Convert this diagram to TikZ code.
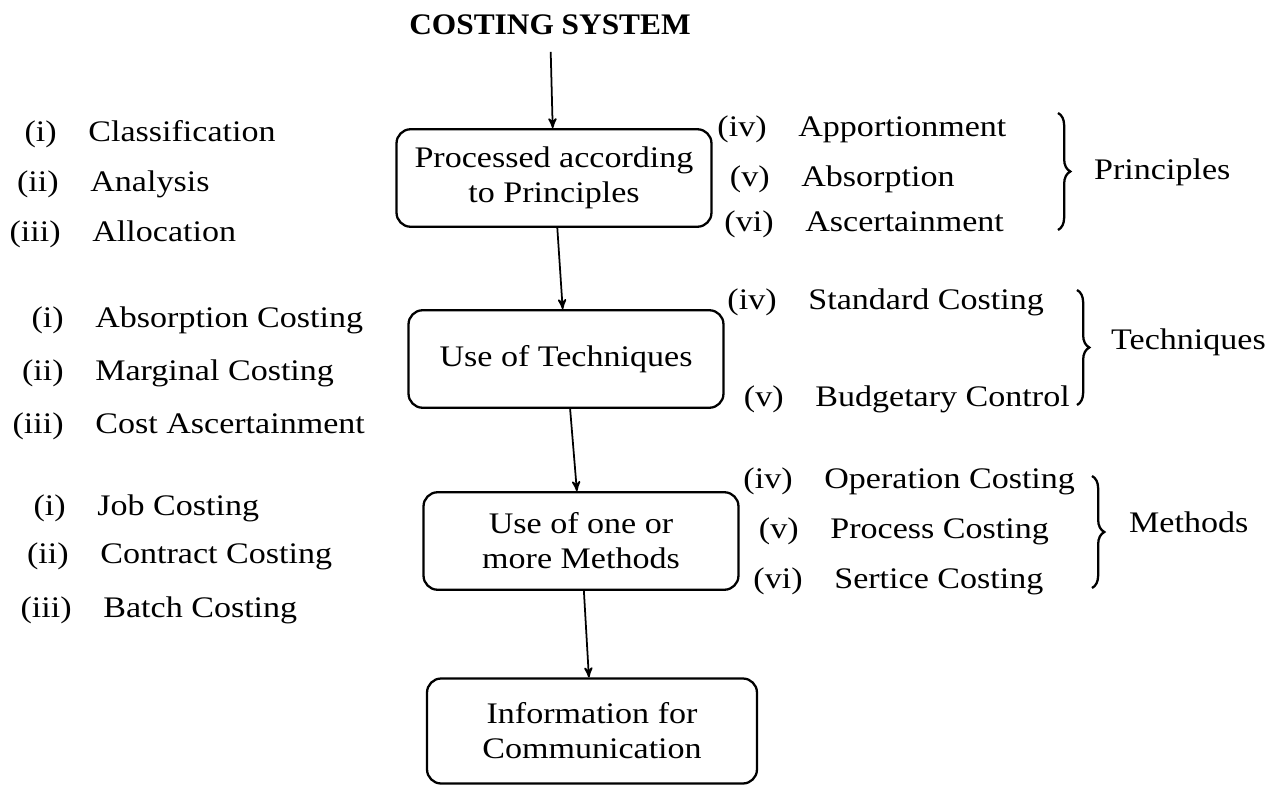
\documentclass[tikz,border=0pt]{standalone}
\usepackage{fontspec}
\setmainfont{Liberation Serif}[FakeStretch=1.14]
\newfontfamily\headfont{Liberation Serif}[FakeStretch=1.05]
\usetikzlibrary{arrows}
\usetikzlibrary{decorations.pathreplacing}
\tikzset{
  stage/.style={draw, line width=1.3pt, rounded corners=8pt, align=center,
    minimum width=6.3cm, minimum height=1.95cm, inner sep=2pt},
  item/.style={inner sep=0pt},
  flow/.style={->, >=stealth', line width=1pt},
  curly/.style={decorate, decoration={brace, amplitude=7pt}, line width=1.3pt}
}

\begin{document}
\begin{tikzpicture}[x=0.02cm, y=-0.02cm, font=\fontsize{17}{20}\selectfont]
\useasboundingbox (0,0) rectangle (1278,787);

% main chain
\node[font=\headfont\fontsize{17}{20}\selectfont\bfseries] (cost) at (550,25) {COSTING SYSTEM};
\node[stage] (prin) at (554,178) {Processed according\\to Principles};
\node[stage] (tech) at (566,359) {Use of Techniques};
\node[stage] (meth) at (581,541) {Use of one or\\more Methods};
\node[stage, minimum width=6.6cm, minimum height=2.1cm] (info) at (592,731) {Information for\\Communication};
\draw[flow, shorten <=6pt] (cost) -- (prin);
\draw[flow] (prin) -- (tech);
\draw[flow] (tech) -- (meth);
\draw[flow] (meth) -- (info);

% left lists
\foreach \x/\y/\num/\txt [count=\i] in {88/142/(i)/Classification, 90/192/(ii)/Analysis,
    92/242/(iii)/Allocation, 95/327/(i)/Absorption Costing, 95/380/(ii)/Marginal Costing,
    95/433/(iii)/Cost Ascertainment, 97/515/(i)/Job Costing, 100/563/(ii)/Contract Costing,
    103/617/(iii)/Batch Costing} {
  \node[item, anchor=base east] (ln\i) at (\x-31,\y) {\num};
  \node[item, anchor=base west] (lt\i) at (\x,\y) {\txt};
}

% right lists
\foreach \x/\y/\num/\txt [count=\i] in {798/137/(iv)/Apportionment, 801/187/(v)/Absorption,
    805/232/(vi)/Ascertainment, 808/310/(iv)/Standard Costing, 815/406/(v)/Budgetary Control,
    824/488/(iv)/Operation Costing, 830/538/(v)/Process Costing, 834/588/(vi)/Sertice Costing} {
  \node[item, anchor=base east] (rn\i) at (\x-31,\y) {\num};
  \node[item, anchor=base west] (rt\i) at (\x,\y) {\txt};
}

% braces
\draw[curly] (1058,113) -- (1058,230);
\draw[curly] (1077,290) -- (1077,405);
\draw[curly] (1092,476) -- (1092,588);
\node[anchor=west] (pr) at (1088,172) {Principles};
\node[anchor=west] (te) at (1105,342) {Techniques};
\node[anchor=west] (me) at (1123,522) {Methods};
\end{tikzpicture}
\end{document}
